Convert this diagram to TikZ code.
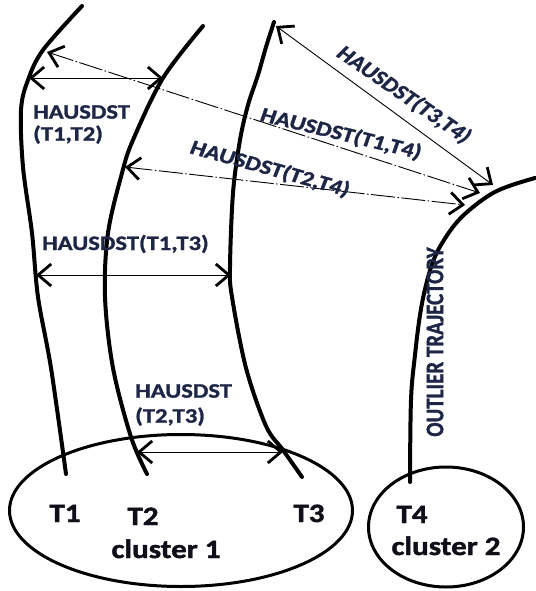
\documentclass[tikz,border=0pt]{standalone}
\usepackage{fontspec}
\usetikzlibrary{arrows.meta,shapes.geometric}
\newfontfamily\hdfont[FakeStretch=1.2,FakeBold=1.3]{Carlito}
\newfontfamily\tagfont[FakeStretch=1.17,FakeBold=1.6]{Carlito}
\newfontfamily\sidefont[FakeBold=1.3]{Carlito}
\definecolor{inkblue}{RGB}{30,38,70}
\definecolor{inkdark}{RGB}{15,15,25}
\begin{document}
\begin{tikzpicture}[x=1pt,y=-1pt,
  traj/.style={line width=4pt, line cap=round, line join=round},
  clusterbox/.style={draw, ellipse, line width=3pt, inner sep=0pt},
  hd/.style={<->, >={Straight Barb[length=13pt,width=22pt,line width=2.8pt]}, line width=0.9pt},
  hddash/.style={hd, dash pattern=on 24pt off 2.5pt on 1.5pt off 2.5pt},
  hdlabel/.style={inner sep=0pt, text=inkblue, font=\hdfont\bfseries\fontsize{20.5}{23}\selectfont},
  slantlabel/.style={inner sep=0pt, text=inkblue, transform shape, font=\sidefont\bfseries\fontsize{20.5}{23}\selectfont},
  tag/.style={inner sep=0pt, text=inkdark, font=\tagfont\bfseries\fontsize{26.5}{30}\selectfont}]
\useasboundingbox (0,0) rectangle (535,591);

% trajectories
\draw[traj] plot[smooth, tension=0.55] coordinates
  {(82,6) (43,50) (28,80) (21,110) (23,167) (32,233) (38,297) (51,368) (66,474)};
\draw[traj] plot[smooth, tension=0.55] coordinates
  {(203,26) (163,78) (133,140) (122,173) (108,233) (105,297) (113,368) (131,437) (147,474)};
\draw[traj] plot[smooth, tension=0.55] coordinates
  {(274,22) (266,47) (258,75) (248,105) (240,140) (233,193) (230,267) (232,297) (246,368) (266,426) (283,450) (302,477)};
\draw[traj] plot[smooth, tension=0.6] coordinates
  {(535,178) (512,185) (493,193) (473,207) (457,222) (444,240) (434,259) (426,285) (420,315) (415,355) (411,400) (410,482)};

% clusters
\node[clusterbox, minimum width=343pt, minimum height=152pt] (c1) at (181,510.5) {};
\node[clusterbox, minimum width=155pt, minimum height=120pt] (c2) at (446,527) {};

% end points of the distance arrows
\coordinate (t1a) at (29,78);   \coordinate (t2a) at (163,78);
\coordinate (t1b) at (36,275);  \coordinate (t3b) at (231,275);
\coordinate (t2c) at (137,452); \coordinate (t3c) at (283,452);
\coordinate (t1d) at (47,52);   \coordinate (t4d) at (480,193);
\coordinate (t2e) at (125,167); \coordinate (t4e) at (465,205);
\coordinate (t3f) at (276,26);  \coordinate (t4f) at (493,185);

% Hausdorff distances
\draw[hd] (t1a) -- (t2a);
\draw[hd] (t1b) -- (t3b);
\draw[hd] (t2c) -- (t3c);
\draw[hddash] (t1d) -- (t4d);
\draw[hddash] (t2e) -- (t4e);
\draw[hd] (t3f) -- (t4f);

% distance labels
\node[hdlabel, anchor=north west, align=left, font=\hdfont\bfseries\fontsize{20.5}{22}\selectfont] (d12) at (33,105) {HAUSDST\\(T1,T2)};
\node[hdlabel, anchor=base west] (d13) at (42,250) {HAUSDST(T1,T3)};
\node[hdlabel, anchor=north west, align=left, font=\hdfont\bfseries\fontsize{20.5}{25}\selectfont] (d23) at (135,384) {HAUSDST\\(T2,T3)};

% sloped labels: rotated first, then widened along x like the upright ones
\begin{scope}[shift={(404,95)}, xscale=1.2]
  \node[slantlabel, rotate=-39.5] (d34) at (0,0) {HAUSDST(T3,T4)};
\end{scope}
\begin{scope}[shift={(341,134)}, xscale=1.2]
  \node[slantlabel, rotate=-16.1] (d14) at (0,0) {HAUSDST(T1,T4)};
\end{scope}
\begin{scope}[shift={(270,169)}, xscale=1.2]
  \node[slantlabel, rotate=-18.3] (d24) at (0,0) {HAUSDST(T2,T4)};
\end{scope}
\begin{scope}[shift={(435,342)}, xscale=1.2]
  \node[slantlabel, font=\sidefont\bfseries\fontsize{21}{24}\selectfont, rotate=90] (outlier) at (0,0) {OUTLIER TRAJECTORY};
\end{scope}

% trajectory and cluster names
\node[tag, anchor=base] (n1) at (65,522) {T1};
\node[tag, anchor=base] (n2) at (143,525) {T2};
\node[tag, anchor=base] (n3) at (309,522) {T3};
\node[tag, anchor=base] (n4) at (412,523) {T4};
\node[tag, anchor=base] (k1) at (166,558) {cluster 1};
\node[tag, anchor=base] (k2) at (446,555) {cluster 2};
\end{tikzpicture}
\end{document}
